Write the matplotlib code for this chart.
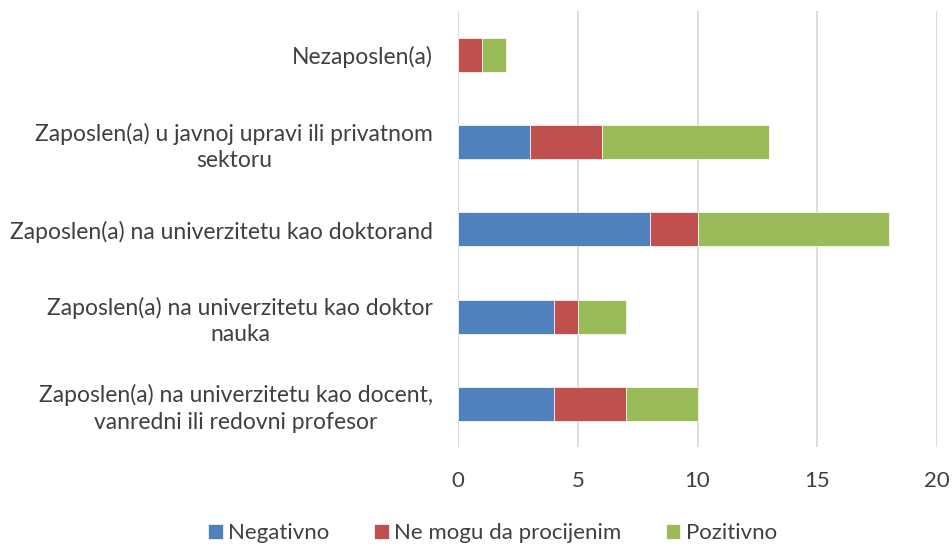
import matplotlib
matplotlib.use('Agg')
import matplotlib.pyplot as plt
import numpy as np

plt.rcParams['font.family'] = ['Lato', 'DejaVu Sans']

categories = ['Nezaposlen(a)',
              'Zaposlen(a) u javnoj upravi ili privatnom\nsektoru',
              'Zaposlen(a) na univerzitetu kao doktorand',
              'Zaposlen(a) na univerzitetu kao doktor\nnauka',
              'Zaposlen(a) na univerzitetu kao docent,\nvanredni ili redovni profesor']
negativno = [0, 3, 8, 4, 4]
ne_mogu = [1, 3, 2, 1, 3]
pozitivno = [1, 7, 8, 2, 3]
series = ['Negativno', 'Ne mogu da procijenim', 'Pozitivno']
colors = ['#4F81BD', '#C0504D', '#9BBB59']
xticks = [0, 5, 10, 15, 20]

txt = '#404040'
fig = plt.figure(figsize=(9.53, 5.44), dpi=100)
ax = fig.add_axes([0.4806, 0.1774, 0.5026, 0.8015])

y = np.arange(len(categories))
left = np.zeros(len(categories))
for vals, name, c in zip([negativno, ne_mogu, pozitivno], series, colors):
    ax.barh(y, vals, left=left, height=0.39, color=c, label=name,
            edgecolor='white', linewidth=0.5, zorder=3)
    left += np.array(vals)

ax.set_xlim(0, 20)
ax.set_ylim(4.5, -0.5)
ax.set_xticks(xticks)
ax.set_yticks(y)
ax.set_yticklabels(categories, fontsize=16.5, color=txt, ha='right',
                   multialignment='center', linespacing=1.3)
ax.tick_params(axis='y', length=0, pad=18)
ax.tick_params(axis='x', length=0, labelsize=16, labelcolor=txt, pad=17)
ax.grid(axis='x', color='#D9D9D9', linewidth=1.3, zorder=0)
for s in ax.spines.values():
    s.set_visible(False)

fig.legend(loc='lower center', bbox_to_anchor=(0.517, -0.035), ncol=3, frameon=False,
           fontsize=16, labelcolor=txt, handlelength=0.65, handleheight=0.65,
           handletextpad=0.25, columnspacing=2.0)

fig.savefig('out.png', dpi=100)
